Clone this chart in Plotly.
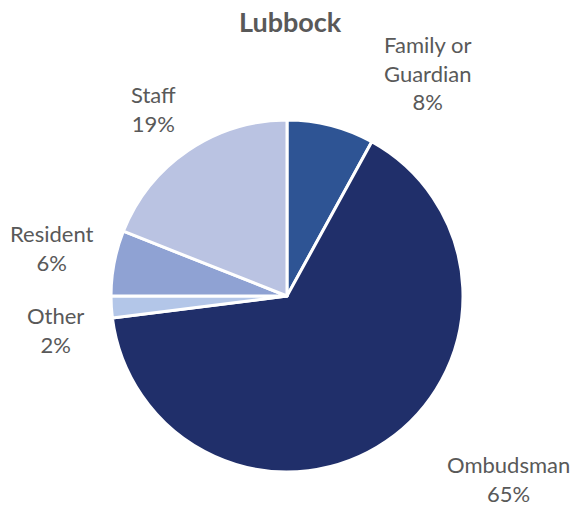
import plotly.graph_objects as go

# Complaint sources for Lubbock, share of total (%)
sources = ["Family or<br>Guardian", "Ombudsman", "Other", "Resident", "Staff"]
shares = [8, 65, 2, 6, 19]
colors = ["#2E5494", "#202F6A", "#B3C6E8", "#8FA2D3", "#BAC3E2"]

# Label anchor positions (pixels, from top-left of the 575x510 canvas)
label_xy = [(427, 73), (508, 479), (55, 330), (52, 248), (154, 109)]

W, H = 575, 510
cx, cy, r = 287, 296, 176

fig = go.Figure(
    go.Pie(
        labels=sources,
        values=shares,
        marker=dict(colors=colors, line=dict(color="white", width=3)),
        sort=False,
        direction="clockwise",
        rotation=0,
        textinfo="none",
        hoverinfo="label+percent",
        showlegend=False,
        domain=dict(x=[(cx - r) / W, (cx + r) / W], y=[1 - (cy + r) / H, 1 - (cy - r) / H]),
    )
)

annotations = []
for name, val, (px, py) in zip(sources, shares, label_xy):
    annotations.append(
        dict(
            text=f"{name}<br>{val}%",
            x=px / W,
            y=1 - py / H,
            xref="paper",
            yref="paper",
            xanchor="center",
            yanchor="middle",
            showarrow=False,
            align="center",
            font=dict(family="Lato", size=22, color="#595959"),
        )
    )

annotations.append(
    dict(
        text="<b>Lubbock</b>",
        x=290 / W,
        y=1 - 22 / H,
        xref="paper",
        yref="paper",
        xanchor="center",
        yanchor="middle",
        showarrow=False,
        font=dict(family="Lato", size=27, color="#595959"),
    )
)

fig.update_layout(
    width=W,
    height=H,
    margin=dict(l=0, r=0, t=0, b=0),
    paper_bgcolor="white",
    plot_bgcolor="white",
    annotations=annotations,
)

fig.write_html("out.html")
